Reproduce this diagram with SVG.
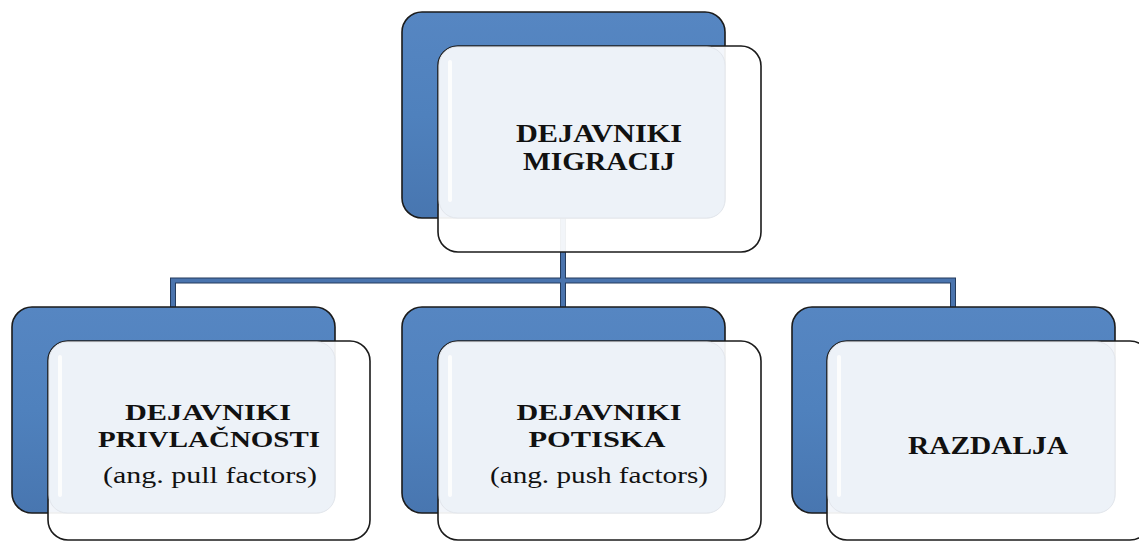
<svg xmlns="http://www.w3.org/2000/svg" width="1139" height="543" viewBox="0 0 1139 543">
<defs>
<linearGradient id="blueG" x1="0" y1="0" x2="0" y2="1">
<stop offset="0" stop-color="#5686C2"/>
<stop offset="0.5" stop-color="#4F81BD"/>
<stop offset="1" stop-color="#4876B0"/>
</linearGradient>
<linearGradient id="hl" x1="0" y1="0" x2="0" y2="1">
<stop offset="0" stop-color="#F0F7FF" stop-opacity="0.95"/>
<stop offset="0.5" stop-color="#D6E7FC" stop-opacity="0.95"/>
<stop offset="1" stop-color="#C4DAF4" stop-opacity="0.7"/>
</linearGradient>
</defs>
<style>
.back{fill:url(#blueG);stroke:#1b1b1b;stroke-width:1.6}
.front{fill:#ffffff;fill-opacity:0.93;stroke:#1b1b1b;stroke-width:1.6}
.inner{fill:#ECF1F8;fill-opacity:0.95;stroke:#E2E6EC;stroke-width:1}
.stripe{stroke:url(#hl);stroke-width:4;stroke-linecap:round}
.wstripe{stroke:#ffffff;stroke-width:4;stroke-linecap:round;opacity:0.85}
.conOut{fill:none;stroke:#243B5C;stroke-width:6}
.con{fill:none;stroke:#4A74AE;stroke-width:4}
.t{font-family:"Liberation Serif","Times New Roman",serif;font-size:24px;font-weight:bold;fill:#111;text-anchor:middle}
.tt{font-family:"Liberation Serif","Times New Roman",serif;font-size:25px;font-weight:bold;fill:#111;text-anchor:middle}
.s{font-family:"Liberation Serif","Times New Roman",serif;font-size:24px;fill:#111;text-anchor:middle}
</style>
<rect width="1139" height="543" fill="#ffffff"/>
<g id="connectors">
<path class="conOut" d="M563 218 V280.5 M173 307 V280.5 H953 V307 M563 280.5 V307"/>
<path class="con" d="M563 218 V280.5 M173 307 V280.5 H953 V307 M563 280.5 V307"/>
</g>
<g id="node-top">
<rect class="back" x="402" y="12" width="323" height="206" rx="20"/>
<line class="stripe" x1="414" y1="30" x2="414" y2="196"/>
<line class="stripe" x1="713" y1="30" x2="713" y2="196"/>
<rect class="front" x="438" y="46" width="323" height="206" rx="20"/>
<rect class="inner" x="439" y="47" width="286" height="171" rx="18"/>
<line class="wstripe" x1="450" y1="62" x2="450" y2="200"/>
<text class="tt" x="599" y="142" textLength="166" lengthAdjust="spacingAndGlyphs">DEJAVNIKI</text>
<text class="tt" x="599" y="170" textLength="152" lengthAdjust="spacingAndGlyphs">MIGRACIJ</text>
</g>
<g id="node-pull">
<rect class="back" x="12" y="307" width="323" height="206" rx="20"/>
<line class="stripe" x1="24" y1="325" x2="24" y2="491"/>
<line class="stripe" x1="323" y1="325" x2="323" y2="491"/>
<rect class="front" x="48" y="341" width="322" height="199" rx="20"/>
<rect class="inner" x="49" y="342" width="286" height="171" rx="18"/>
<line class="wstripe" x1="60" y1="357" x2="60" y2="495"/>
<text class="t" x="208" y="420" textLength="166" lengthAdjust="spacingAndGlyphs">DEJAVNIKI</text>
<text class="t" x="209" y="447" textLength="222" lengthAdjust="spacingAndGlyphs">PRIVLAČNOSTI</text>
<text class="s" x="210" y="483" textLength="214" lengthAdjust="spacingAndGlyphs">(ang. pull factors)</text>
</g>
<g id="node-push">
<rect class="back" x="402" y="307" width="323" height="206" rx="20"/>
<line class="stripe" x1="414" y1="325" x2="414" y2="491"/>
<line class="stripe" x1="713" y1="325" x2="713" y2="491"/>
<rect class="front" x="438" y="341" width="323" height="199" rx="20"/>
<rect class="inner" x="439" y="342" width="286" height="171" rx="18"/>
<line class="wstripe" x1="450" y1="357" x2="450" y2="495"/>
<text class="t" x="599" y="420" textLength="165" lengthAdjust="spacingAndGlyphs">DEJAVNIKI</text>
<text class="t" x="597" y="447" textLength="137" lengthAdjust="spacingAndGlyphs">POTISKA</text>
<text class="s" x="599" y="483" textLength="218" lengthAdjust="spacingAndGlyphs">(ang. push factors)</text>
</g>
<g id="node-distance">
<rect class="back" x="792" y="307" width="323" height="206" rx="20"/>
<line class="stripe" x1="804" y1="325" x2="804" y2="491"/>
<line class="stripe" x1="1103" y1="325" x2="1103" y2="491"/>
<rect class="front" x="827" y="341" width="323" height="199" rx="20"/>
<rect class="inner" x="828" y="342" width="287" height="171" rx="18"/>
<line class="wstripe" x1="839" y1="357" x2="839" y2="495"/>
<text class="tt" x="988" y="454" textLength="160" lengthAdjust="spacingAndGlyphs">RAZDALJA</text>
</g>
</svg>
